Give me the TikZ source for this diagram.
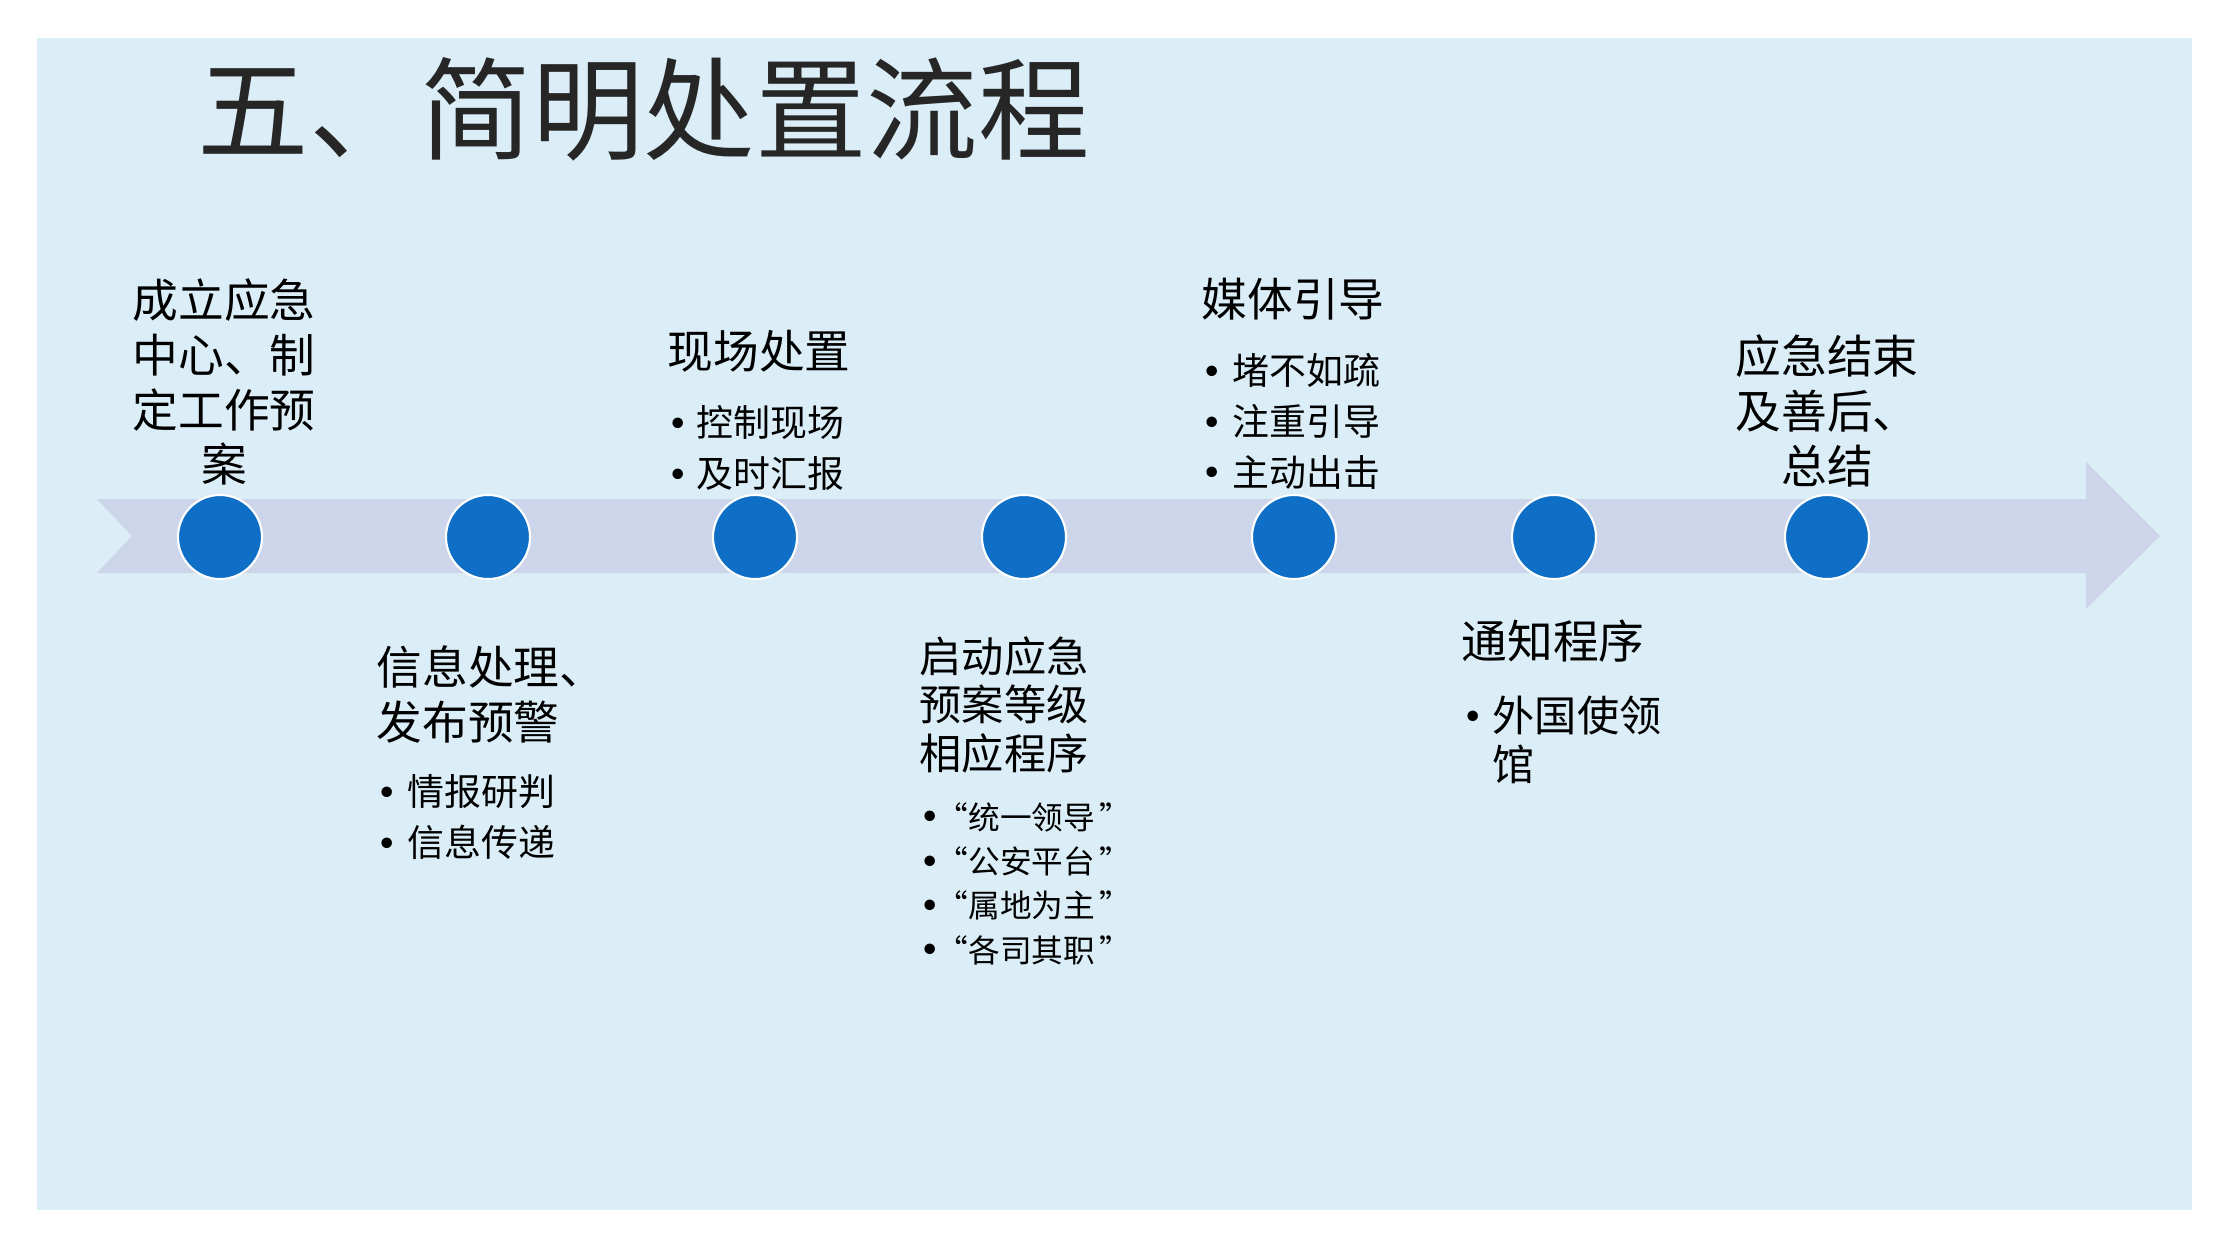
\documentclass[tikz,border=0pt]{standalone}
\usepackage{fontspec}
\newfontfamily\cjk{Noto Sans CJK SC}
\usepackage{xcolor}
\definecolor{pageblue}{HTML}{DBEEF7}
\definecolor{bandblue}{HTML}{CDD5EA}
\definecolor{dotblue}{HTML}{0F6FC6}
\definecolor{titlegray}{HTML}{262626}
\usetikzlibrary{positioning}
\newcommand{\itm}[1][0.27cm]{\makebox[#1][l]{\raisebox{0.2em}{\fontsize{7.5pt}{7.5pt}\selectfont$\bullet$}}}
\newcommand{\qt}[1]{\itm[0.14cm]“#1\hspace{0.05cm}”}

\begin{document}
\begin{tikzpicture}[x=0.01cm, y=-0.01cm,
    stepdot/.style={circle, fill=dotblue, draw=white, line width=0.6pt,
                    minimum size=0.84cm, inner sep=0pt},
    head/.style={font=\cjk\fontsize{13pt}{15.6pt}\selectfont,
                 inner sep=0pt, anchor=west, align=left},
    items/.style={font=\cjk\fontsize{10.5pt}{14.5pt}\selectfont,
                  inner sep=0pt, anchor=west, align=left}]
    \useasboundingbox (0,0) rectangle (2230,1248);
    \fill[pageblue] (37,38) rectangle (2192,1210);

    % title
    \node[anchor=west, inner sep=0pt, text=titlegray,
          font=\cjk\fontsize{31.7pt}{38pt}\selectfont] (title) at (197,109) {五、简明处置流程};

    % time line
    \fill[bandblue] (97,499) -- (2086,499) -- (2086,462) -- (2160,536) -- (2086,609)
        -- (2086,573) -- (97,573) -- (132,536) -- cycle;
    \foreach \x [count=\i] in {220,488,755,1024,1294,1554,1827}
      \node[stepdot] (dot\i) at (\x,537) {};

    % above the line
    \node[head, anchor=center, align=center] (center) at (224,382) {成立应急\\中心、制\\定工作预\\案};
    \node[head] (scene) at (667,351) {现场处置};
    \node[items] (sceneitems) at (670,448) {\itm[0.26cm]控制现场\\\itm[0.26cm]及时汇报};
    \node[head] (media) at (1201,299) {媒体引导};
    \node[items, font=\cjk\fontsize{10.5pt}{14.4pt}\selectfont] (mediaitems) at (1204,421.5)
      {\itm[0.28cm]堵不如疏\\\itm[0.28cm]注重引导\\\itm[0.28cm]主动出击};
    \node[head, anchor=center, align=center] (close) at (1827,411) {应急结束\\及善后、\\总结};

    % below the line
    \node[head] (info) at (376,694.5) {信息处理、\\发布预警};
    \node[items] (infoitems) at (379,817.5) {\itm[0.28cm]情报研判\\\itm[0.28cm]信息传递};
    \node[head, font=\cjk\fontsize{12pt}{13.8pt}\selectfont] (start) at (919,704.5)
      {启动应急\\预案等级\\相应程序};
    \node[items, font=\cjk\fontsize{9pt}{12.6pt}\selectfont] (startitems) at (922,883.5)
      {\qt{统一领导}\\\qt{公安平台}\\\qt{属地为主}\\\qt{各司其职}};
    \node[head] (notice) at (1461,641) {通知程序};
    \node[items, font=\cjk\fontsize{12pt}{13.9pt}\selectfont] (noticeitems) at (1465,739.5)
      {\itm 外国使领\\\hspace{0.27cm}馆};
\end{tikzpicture}
\end{document}
